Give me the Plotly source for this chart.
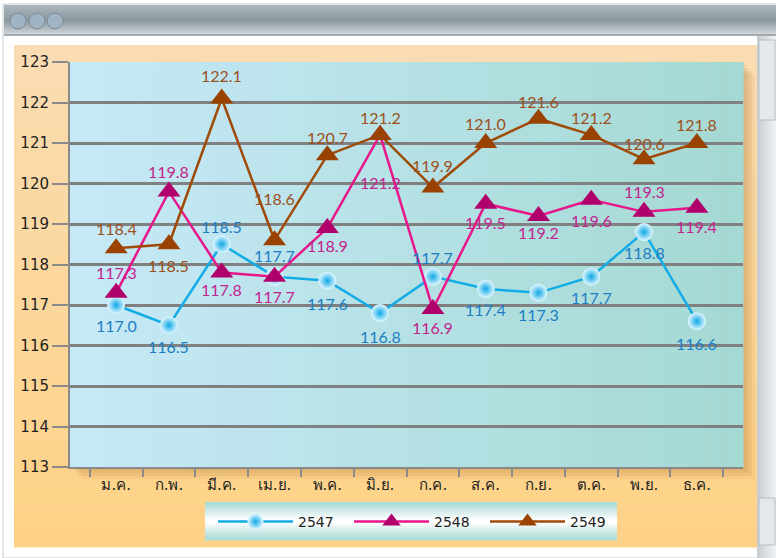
import plotly.graph_objects as go

months = ["ม.ค.", "ก.พ.", "มี.ค.", "เม.ย.", "พ.ค.", "มิ.ย.", "ก.ค.", "ส.ค.", "ก.ย.", "ต.ค.", "พ.ย.", "ธ.ค."]
v2547 = [117.0, 116.5, 118.5, 117.7, 117.6, 116.8, 117.7, 117.4, 117.3, 117.7, 118.8, 116.6]
v2548 = [117.3, 119.8, 117.8, 117.7, 118.9, 121.2, 116.9, 119.5, 119.2, 119.6, 119.3, 119.4]
v2549 = [118.4, 118.5, 122.1, 118.6, 120.7, 121.2, 119.9, 121.0, 121.6, 121.2, 120.6, 121.0]
lab2547 = ["117.0", "116.5", "118.5", "117.7", "117.6", "116.8", "117.7", "117.4", "117.3", "117.7", "118.8", "116.6"]
lab2548 = ["117.3", "119.8", "117.8", "117.7", "118.9", "121.2", "116.9", "119.5", "119.2", "119.6", "119.3", "119.4"]
lab2549 = ["118.4", "118.5", "122.1", "118.6", "120.7", "121.2", "119.9", "121.0", "121.6", "121.2", "120.6", "121.8"]
y_ticks = list(range(113, 124))
series_names = ["2547", "2548", "2549"]

# label vertical offsets in px (style only)
off2547 = [-20, -21, 18, 21, -23, -23, 19, -21, -22, -21, -20, -22]
off2548 = [20, 20, -17, -20, -17, -48, -18, -19, -17, -21, 20, -19]
off2549 = [20, -21, 23, 42, 18, 17, 22, 20, 17, 17, 16, 19]

W, H = 776, 558
L, R, T, B = 70, 743, 62, 467
FONT = "'DejaVu Sans', Lato, sans-serif"
LABFONT = "Lato, 'DejaVu Sans', sans-serif"


def px(x):
    return (x - L) / (R - L)


def py(y):
    return (B - y) / (B - T)


def hexmix(c1, c2, t):
    a = [int(c1[i:i + 2], 16) for i in (1, 3, 5)]
    b = [int(c2[i:i + 2], 16) for i in (1, 3, 5)]
    return "rgb(%d,%d,%d)" % tuple(round(a[k] + (b[k] - a[k]) * t) for k in range(3))


shapes = []


def rect(x0, y0, x1, y1, fill, line=None, lw=0, layer="below"):
    shapes.append(dict(type="rect", xref="paper", yref="paper", x0=px(x0), x1=px(x1),
                       y0=py(y1), y1=py(y0), fillcolor=fill, layer=layer,
                       line=dict(width=lw, color=line or "rgba(0,0,0,0)")))


def vgrad(x0, y0, x1, y1, c1, c2, n):
    h = (y1 - y0) / n
    for i in range(n):
        rect(x0, y0 + i * h, x1, y0 + (i + 1) * h + 0.6, hexmix(c1, c2, i / (n - 1)))


def hgrad(x0, y0, x1, y1, c1, c2, n):
    w = (x1 - x0) / n
    for i in range(n):
        rect(x0 + i * w, y0, x0 + (i + 1) * w + 0.6, y1, hexmix(c1, c2, i / (n - 1)))


# window frame
rect(3, 4, 776, 558, "#ffffff", "#c9cfd3", 1)
vgrad(4, 5, 776, 20, "#aab4bb", "#8f9ba3", 6)
vgrad(4, 20, 776, 35, "#8f9ba3", "#cdd3d7", 6)
rect(4, 34, 776, 36, "#a3abb1")
for cx in (18, 37, 55):
    shapes.append(dict(type="circle", xref="paper", yref="paper", x0=px(cx - 8), x1=px(cx + 8),
                       y0=py(29), y1=py(13), fillcolor="#9fb3c2", layer="below",
                       line=dict(width=1, color="#7d8d98")))
# peach panel
vgrad(14, 45, 757, 547, "#fadcb2", "#fed286", 24)
# scrollbar
hgrad(757, 36, 776, 558, "#c8ced2", "#eef1f2", 6)
rect(759, 40, 775, 120, "#e4e8ea", "#b5bcc0", 1)
rect(759, 498, 775, 545, "#e4e8ea", "#b5bcc0", 1)
# plot shadow
for i, a in enumerate([0.10, 0.10, 0.10, 0.08]):
    s = 3 + i * 3
    rect(L + s, T + s, R + s, B + s, "rgba(170,110,40,%.2f)" % a)
# plot background
hgrad(L, T, R, B, "#c6e9f7", "#a5d9d3", 40)
# legend background
vgrad(205, 502, 617, 521, "#a9dbd9", "#ffffff", 8)
vgrad(205, 521, 617, 540, "#ffffff", "#a9dbd9", 8)

fig = go.Figure()
fig.add_trace(go.Scatter(
    x=months, y=v2547, name=series_names[0], mode="lines+markers",
    line=dict(color="#12ace6", width=2.5),
    marker=dict(symbol="circle", size=18, color="#e2f8ff",
                gradient=dict(type="radial", color="#0ea8e6"), line=dict(width=0)),
))
fig.add_trace(go.Scatter(
    x=months, y=v2548, name=series_names[1], mode="lines+markers",
    line=dict(color="#e8168b", width=2.5),
    marker=dict(symbol="triangle-up", size=20, color="#b0006c", line=dict(width=0)),
))
fig.add_trace(go.Scatter(
    x=months, y=v2549, name=series_names[2], mode="lines+markers",
    line=dict(color="#a04a08", width=2.5),
    marker=dict(symbol="triangle-up", size=20, color="#9a4200", line=dict(width=0)),
))

annotations = []
for vals, labs, offs, col in ((v2547, lab2547, off2547, "#1b7dc4"),
                              (v2548, lab2548, off2548, "#c0258e"),
                              (v2549, lab2549, off2549, "#9c501c")):
    for m, v, t, o in zip(months, vals, labs, offs):
        annotations.append(dict(x=m, y=v, text=t, showarrow=False, yshift=o,
                                font=dict(family=LABFONT, size=16, color=col)))

fig.update_layout(
    width=W, height=H,
    margin=dict(l=L, r=W - R, t=T, b=H - B),
    paper_bgcolor="#ffffff", plot_bgcolor="rgba(0,0,0,0)",
    shapes=shapes, annotations=annotations,
    font=dict(family=FONT, size=14, color="#222222"),
    showlegend=True,
    legend=dict(orientation="h", x=px(213), xanchor="left", y=py(506), yanchor="top",
                bgcolor="rgba(0,0,0,0)", itemwidth=75, entrywidth=46,
                font=dict(size=14, color="#222222")),
    xaxis=dict(type="category", tickson="boundaries", ticks="outside", ticklen=8,
               tickwidth=2, tickcolor="#8a8a8a", showgrid=False, showline=True,
               linecolor="#8a8a8a", linewidth=2, tickfont=dict(size=15, color="#222222"),
               ticklabelstandoff=3, fixedrange=True),
    yaxis=dict(range=[113, 123], tickvals=y_ticks, ticks="outside", ticklen=16,
               tickwidth=2, tickcolor="#8a8a8a", showgrid=True, gridcolor="#808080",
               gridwidth=2.5, showline=True, linecolor="#8a8a8a", linewidth=2,
               zeroline=False, tickfont=dict(size=15, color="#222222"), fixedrange=True),
)

fig.write_html("out.html", config={"displayModeBar": False},
               post_script="document.body.style.margin='0';")
